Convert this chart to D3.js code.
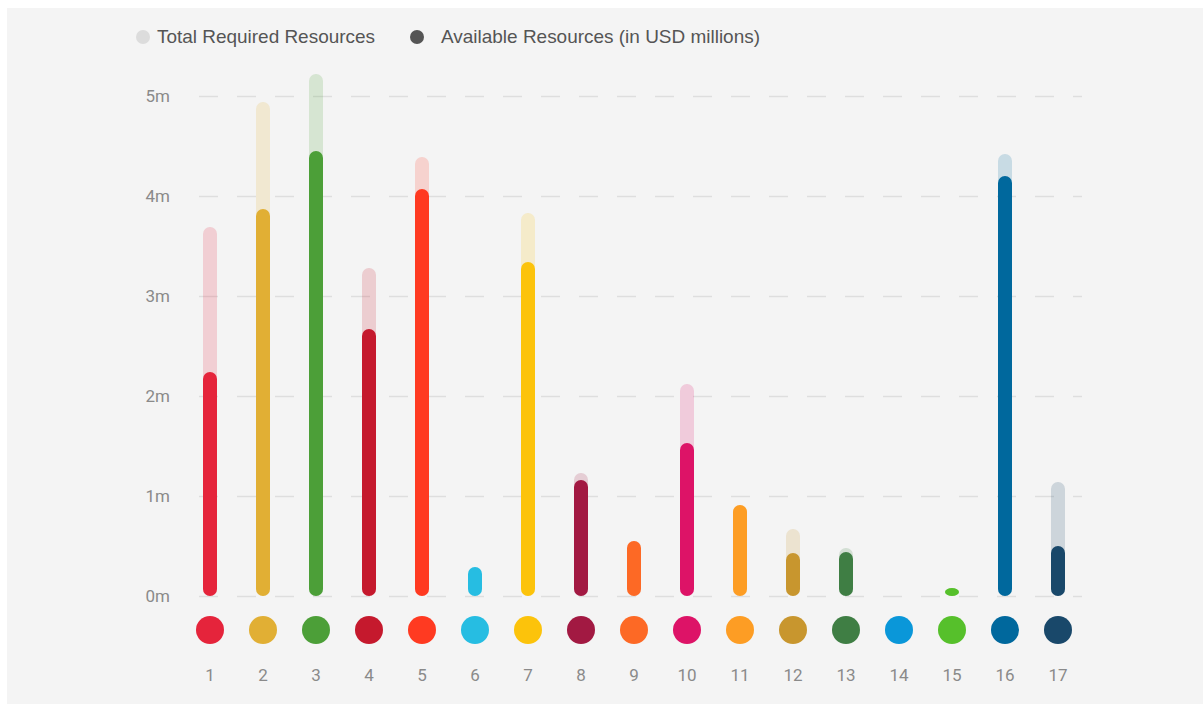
<!DOCTYPE html>
<html>
<head>
<meta charset="utf-8">
<script src="https://cdn.jsdelivr.net/npm/d3@7"></script>
<style>
  html, body { margin: 0; padding: 0; background: #fff; }
  svg { display: block; font-family: Roboto, "Noto Sans", sans-serif; }
</style>
</head>
<body>
<svg id="chart"></svg>
<script>
// SDG goals 1..17
const goals = ["1","2","3","4","5","6","7","8","9","10","11","12","13","14","15","16","17"];
const goalColors = ["#E5243B","#E1AF34","#4C9F38","#C5192D","#FF3A21","#26BDE2","#FCC30B","#A21942","#FD6925","#DD1367","#FD9D24","#C8962E","#3F7E44","#0A97D9","#56C02B","#00689D","#19486A"];
// values in USD millions
const totalRequired = [3.69, 4.94, 5.22, 3.28, 4.39, 0.29, 3.83, 1.23, 0.55, 2.12, 0.91, 0.67, 0.48, 0, 0.08, 4.42, 1.14];
const available     = [2.24, 3.87, 4.45, 2.67, 4.07, 0.29, 3.34, 1.16, 0.55, 1.53, 0.91, 0.43, 0.44, 0, 0.08, 4.20, 0.50];
const yTicks = [0, 1, 2, 3, 4, 5];

const W = 1203, H = 704;
const svg = d3.select("#chart").attr("width", W).attr("height", H);

// panel
svg.append("rect").attr("x", 7).attr("y", 8).attr("width", W - 7).attr("height", H - 8).attr("fill", "#f4f4f4");

const x = d3.scalePoint().domain(goals).range([210, 1058]);
const y = d3.scaleLinear().domain([0, 5]).range([596, 96]);
const barW = 14;

// gridlines
svg.append("g").attr("class", "gridlines")
  .call(d3.axisLeft(y).tickValues(yTicks).tickSize(0).tickFormat(""))
  .call(g => g.select(".domain").remove())
  .selectAll(".tick").append("line")
    .attr("x1", 199).attr("x2", 1082)
    .attr("stroke", "#dedede").attr("stroke-width", 1.5)
    .attr("stroke-dasharray", "19,19");

// y labels
svg.append("g").selectAll("text").data(yTicks).enter().append("text")
  .attr("x", 170).attr("y", d => y(d)).attr("dy", "0.35em")
  .attr("text-anchor", "end").attr("fill", "#8a8a8a").attr("font-size", 17)
  .text(d => d + "m");

const bars = goals.map((g, i) => ({ g, c: goalColors[i], t: totalRequired[i], a: available[i] }));

function pill(sel, key, opacity) {
  sel.selectAll("rect." + key)
    .data(bars.filter(d => d[key] > 0))
    .enter().append("rect")
      .attr("class", key)
      .attr("x", d => x(d.g) - barW / 2)
      .attr("y", d => y(d[key]))
      .attr("width", barW)
      .attr("height", d => y(0) - y(d[key]))
      .attr("rx", barW / 2)
      .attr("fill", d => d.c)
      .attr("fill-opacity", opacity);
}
const barG = svg.append("g");
pill(barG, "t", 0.18);
pill(barG, "a", 1);

// goal dots
svg.append("g").selectAll("circle").data(bars).enter().append("circle")
  .attr("cx", d => x(d.g)).attr("cy", 630).attr("r", 14).attr("fill", d => d.c);

// x labels
svg.append("g").selectAll("text").data(goals).enter().append("text")
  .attr("x", d => x(d)).attr("y", 675).attr("dy", "0.35em")
  .attr("text-anchor", "middle").attr("fill", "#8a8a8a").attr("font-size", 17)
  .text(d => d);

// legend
const legend = [
  { label: "Total Required Resources", color: "#dcdcdc", cx: 143, tx: 157, len: 218 },
  { label: "Available Resources (in USD millions)", color: "#555555", cx: 417, tx: 441, len: 319 }
];
const lg = svg.append("g").selectAll("g").data(legend).enter().append("g");
lg.append("circle").attr("cx", d => d.cx).attr("cy", 37).attr("r", 7).attr("fill", d => d.color);
lg.append("text").attr("x", d => d.tx).attr("y", 37).attr("dy", "0.35em")
  .attr("fill", "#555").attr("font-size", 18.5)
  .attr("font-family", "'Liberation Sans', Arial, sans-serif")
  .attr("textLength", d => d.len).attr("lengthAdjust", "spacingAndGlyphs")
  .text(d => d.label);
</script>
</body>
</html>
